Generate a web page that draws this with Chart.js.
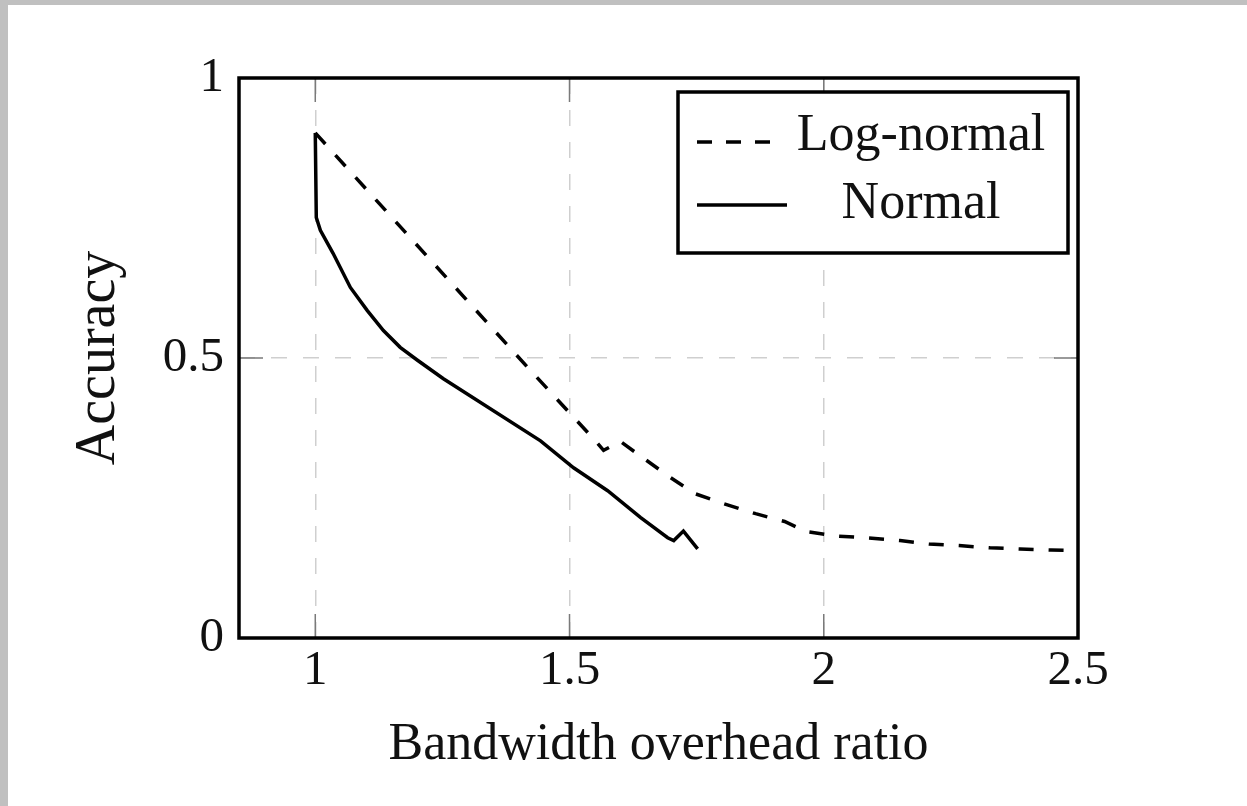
<!DOCTYPE html>
<html><head><meta charset="utf-8">
<script src="https://cdn.jsdelivr.net/npm/chart.js@4.4.0/dist/chart.umd.min.js"></script>
<style>
html,body{margin:0;padding:0;background:#c0c0c0;width:1247px;height:806px;overflow:hidden;}
#wrap{position:absolute;left:8px;top:5px;width:1239px;height:801px;background:#fff;}
canvas{display:block;}
</style></head><body>
<div id="wrap"><canvas id="c" width="1239" height="801"></canvas></div>
<script>
const seriesLabels = ['Log-normal', 'Normal'];
const logNormalX = [1.000, 1.423, 1.551, 1.567, 1.600, 1.644, 1.693, 1.746, 1.803, 1.866, 1.923, 1.965, 2.026, 2.081, 2.150, 2.207, 2.266, 2.327, 2.386, 2.447, 2.500];
const logNormalY = [0.902, 0.478, 0.352, 0.335, 0.351, 0.322, 0.290, 0.258, 0.240, 0.222, 0.208, 0.190, 0.182, 0.179, 0.174, 0.168, 0.165, 0.161, 0.159, 0.157, 0.156];
const normalX = [1.000, 1.002, 1.010, 1.035, 1.069, 1.102, 1.134, 1.167, 1.201, 1.252, 1.443, 1.508, 1.575, 1.640, 1.693, 1.705, 1.724, 1.752];
const normalY = [0.902, 0.751, 0.728, 0.687, 0.626, 0.585, 0.549, 0.519, 0.496, 0.463, 0.352, 0.304, 0.263, 0.215, 0.179, 0.174, 0.191, 0.159];
const xTickValues = [1, 1.5, 2, 2.5];
const yTickValues = [0, 0.5, 1];
const xTitle = 'Bandwidth overhead ratio';
const yTitle = 'Accuracy';

const toPoints = (xs, ys) => xs.map((x, i) => ({x: x, y: ys[i]}));

const framePlugin = {
  id: 'frameAndLegend',
  afterDatasetsDraw(chart) {
    const {ctx, chartArea: a, scales} = chart;
    const xs = scales.x, ys = scales.y;
    ctx.save();
    // inner tick marks
    ctx.strokeStyle = '#7a7a7a';
    ctx.lineWidth = 1.5;
    ctx.setLineDash([]);
    const L = 24;
    ctx.beginPath();
    xTickValues.forEach(v => {
      const p = xs.getPixelForValue(v);
      ctx.moveTo(p, a.bottom); ctx.lineTo(p, a.bottom - L);
      ctx.moveTo(p, a.top); ctx.lineTo(p, a.top + L);
    });
    yTickValues.forEach(v => {
      const p = ys.getPixelForValue(v);
      ctx.moveTo(a.left, p); ctx.lineTo(a.left + L, p);
      ctx.moveTo(a.right, p); ctx.lineTo(a.right - L, p);
    });
    ctx.stroke();
    // frame
    ctx.strokeStyle = '#000';
    ctx.lineWidth = 3.5;
    ctx.strokeRect(a.left, a.top, a.right - a.left, a.bottom - a.top);
    // legend
    const bw = 390, bh = 161;
    const bx = a.right - 10 - bw, by = a.top + 14;
    ctx.fillStyle = '#fff';
    ctx.fillRect(bx, by, bw, bh);
    ctx.lineWidth = 3.5;
    ctx.strokeStyle = '#000';
    ctx.strokeRect(bx, by, bw, bh);
    const rows = [
      {y: 50, base: 58, x2: 105},
      {y: 113, base: 126, x2: 109}
    ];
    chart.data.datasets.forEach((ds, i) => {
      const r = rows[i];
      ctx.save();
      ctx.strokeStyle = ds.borderColor;
      ctx.lineWidth = ds.borderWidth;
      ctx.setLineDash(ds.borderDash && ds.borderDash.length ? [15, 14] : []);
      ctx.beginPath();
      ctx.moveTo(bx + 19, by + r.y);
      ctx.lineTo(bx + r.x2, by + r.y);
      ctx.stroke();
      ctx.restore();
      ctx.fillStyle = '#111';
      ctx.font = '52px "Liberation Serif"';
      ctx.textAlign = 'center';
      ctx.textBaseline = 'alphabetic';
      ctx.fillText(ds.label, bx + 243, by + r.base);
    });
    ctx.restore();
  }
};

Chart.defaults.font.family = '"Liberation Serif", serif';
Chart.defaults.color = '#111';

new Chart(document.getElementById('c'), {
  type: 'line',
  data: {
    datasets: [
      {
        label: seriesLabels[0],
        data: toPoints(logNormalX, logNormalY),
        borderColor: '#000',
        borderWidth: 3.5,
        borderDash: [15, 15],
        pointRadius: 0,
        tension: 0,
        fill: false
      },
      {
        label: seriesLabels[1],
        data: toPoints(normalX, normalY),
        borderColor: '#000',
        borderWidth: 3.5,
        pointRadius: 0,
        tension: 0,
        fill: false
      }
    ]
  },
  options: {
    responsive: false,
    animation: false,
    events: [],
    layout: {padding: {left: 0, top: 73, right: 169, bottom: 0}},
    plugins: {legend: {display: false}, tooltip: {enabled: false}},
    scales: {
      x: {
        type: 'linear',
        min: 0.85,
        max: 2.5,
        afterBuildTicks: s => { s.ticks = xTickValues.map(v => ({value: v})); },
        afterFit: s => { s.height = 168; },
        ticks: {
          font: {size: 49},
          padding: 4,
          maxRotation: 0,
          autoSkip: false,
          callback: v => String(v)
        },
        grid: {color: '#cfcfcf', lineWidth: 1.5, drawTicks: false},
        border: {display: false, dash: [16, 16]},
        title: {display: true, text: xTitle, font: {size: 52}, padding: {top: 0, bottom: 29}}
      },
      y: {
        type: 'linear',
        min: 0,
        max: 1,
        afterBuildTicks: s => { s.ticks = yTickValues.map(v => ({value: v})); },
        afterFit: s => { s.width = 231; },
        ticks: {
          font: {size: 49},
          padding: 15,
          autoSkip: false,
          callback: v => String(v)
        },
        grid: {color: '#cfcfcf', lineWidth: 1.5, drawTicks: false},
        border: {display: false, dash: [16, 16]},
        title: {display: true, text: yTitle, font: {size: 56}, padding: {top: 58, bottom: 0}}
      }
    }
  },
  plugins: [framePlugin]
});
</script>
</body></html>
